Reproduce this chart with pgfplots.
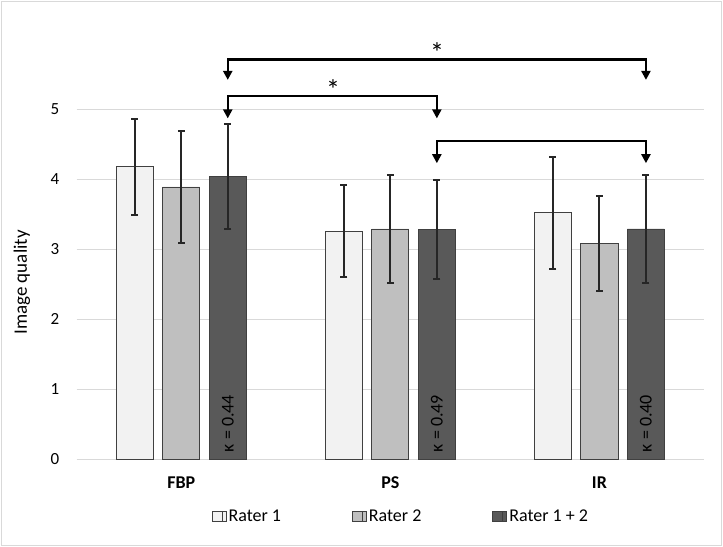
\documentclass[border=0pt]{standalone}
\usepackage{fontspec}
\setmainfont{Carlito}
\usepackage{pgfplots}
\usepackage{pgfplotstable}
\pgfplotsset{compat=1.18}
\usetikzlibrary{arrows.meta}
\definecolor{RaterA}{HTML}{F2F2F2}
\definecolor{RaterB}{HTML}{BFBFBF}
\definecolor{RaterC}{HTML}{595959}
\definecolor{EdgeC}{HTML}{404040}
\definecolor{ErrC}{HTML}{262626}
\definecolor{GridC}{HTML}{D9D9D9}

% mean and SD per method (0 = FBP, 1 = PS, 2 = IR)
\pgfplotstableread{
x y e
0 4.18 0.685
1 3.26 0.655
2 3.52 0.80
}\raterone
\pgfplotstableread{
x y e
0 3.89 0.80
1 3.29 0.77
2 3.08 0.675
}\ratertwo
\pgfplotstableread{
x y e
0 4.04 0.75
1 3.28 0.71
2 3.29 0.77
}\raterboth

\newcommand{\fs}[1]{\fontsize{#1bp}{#1bp}\selectfont}

\begin{document}
\begin{tikzpicture}
\useasboundingbox (-76.7bp,-87.7bp) rectangle (646.3bp,459.3bp);
\draw[GridC,line width=1.5bp] (-75.2bp,-86.2bp) rectangle (644.8bp,457.8bp);
\begin{axis}[
  at={(0bp,0bp)},anchor=south west,
  scale only axis,width=627.3bp,height=420bp,
  xmin=-0.5,xmax=2.5,ymin=0,ymax=6,
  xtick={0,1,2},xticklabels={FBP,PS,IR},
  ytick={0,...,5},
  /pgf/number format/assume math mode=true,
  ymajorgrids,grid style={draw=GridC,line width=1bp},
  axis line style={draw=none},major tick length=0pt,
  clip=false,
  ybar,bar width=0.177,
  yticklabel style={font=\fs{17},anchor=east,xshift=-14bp},
  xticklabel style={font=\fs{18}\bfseries,yshift=-14bp},
  ylabel={Image quality},
  every axis y label/.style={at={(axis description cs:-0.0872,0.421)},rotate=90,anchor=center,font=\fs{19}},
  legend columns=3,
  legend style={at={(axis description cs:0.5167,-0.135)},anchor=center,draw=none,fill=none,font=\fs{18},
    nodes={inner ysep=1bp,inner xsep=2bp},
    /tikz/every even column/.append style={column sep=69bp}},
  legend image code/.code={\path (0bp,-5bp) rectangle (14bp,5bp);
    \draw[#1,line width=0.8bp] (0bp,-5bp) rectangle (10bp,5bp);},
  every axis plot/.append style={draw=EdgeC,line width=0.9bp},
  error bars/error bar style={draw=ErrC,line width=2bp},
  error bars/error mark options={rotate=90,mark size=3.5bp,line width=2bp,draw=ErrC},
]
\addplot[fill=RaterA,draw=EdgeC,bar shift=-0.2224,error bars/.cd,y dir=both,y explicit]
  table[x=x,y=y,y error=e]{\raterone};
\addlegendentry{Rater 1}
\addplot[fill=RaterB,draw=EdgeC,bar shift=0,error bars/.cd,y dir=both,y explicit]
  table[x=x,y=y,y error=e]{\ratertwo};
\addlegendentry{Rater 2}
\addplot[fill=RaterC,draw=EdgeC,bar shift=0.2224,error bars/.cd,y dir=both,y explicit]
  table[x=x,y=y,y error=e]{\raterboth};
\addlegendentry{Rater 1 + 2}

% kappa labels inside the combined bars
\node[rotate=90,anchor=west,inner sep=0pt,font=\fs{18}] at (axis cs:0.2224,0.1) {κ = 0.44};
\node[rotate=90,anchor=west,inner sep=0pt,font=\fs{18}] at (axis cs:1.2224,0.1) {κ = 0.49};
\node[rotate=90,anchor=west,inner sep=0pt,font=\fs{18}] at (axis cs:2.2224,0.1) {κ = 0.40};
% significance brackets
\draw[line width=2.2bp,line join=miter,{Triangle[width=9bp,length=9bp]}-{Triangle[width=9bp,length=9bp]}]
  (axis cs:0.2224,5.42) -- (axis cs:0.2224,5.71) -- (axis cs:2.2224,5.71) -- (axis cs:2.2224,5.42);
\draw[line width=2.2bp,line join=miter,{Triangle[width=9bp,length=9bp]}-{Triangle[width=9bp,length=9bp]}]
  (axis cs:0.2224,4.87) -- (axis cs:0.2224,5.19) -- (axis cs:1.2224,5.19) -- (axis cs:1.2224,4.87);
\draw[line width=2.2bp,line join=miter,{Triangle[width=9bp,length=9bp]}-{Triangle[width=9bp,length=9bp]}]
  (axis cs:1.2224,4.23) -- (axis cs:1.2224,4.55) -- (axis cs:2.2224,4.55) -- (axis cs:2.2224,4.23);
\node[font=\fs{28},yshift=-5bp] at (axis cs:1.223,5.876) {*};
\node[font=\fs{28},yshift=-5bp] at (axis cs:0.726,5.36) {*};
\end{axis}
\end{tikzpicture}
\end{document}
